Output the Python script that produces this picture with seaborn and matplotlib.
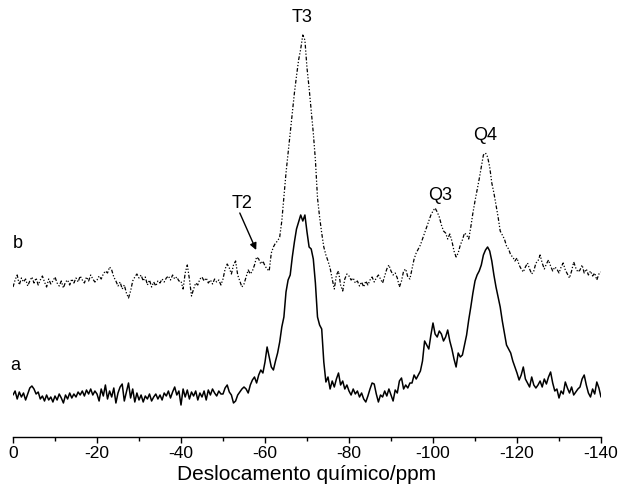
import numpy as np
import pandas as pd
import matplotlib
matplotlib.use("Agg")
import matplotlib.pyplot as plt
import seaborn as sns

# chemical shift grid (ppm), 0 to -140 in 0.5 ppm steps
ppm = np.linspace(0, -140, 281)

# spectrum a (solid), intensity relative to its baseline
spec_a = [
    2, 6, -2, 5, 0, 4, -3, 3, 9, 11,
    8, 3, 5, -2, 1, -4, 2, -3, 0, -5,
    1, -3, 3, -1, -6, 2, -2, 4, -1, 3,
    0, 5, 2, 6, 1, 7, 3, 8, 2, 6,
    3, -4, 8, 1, 12, -2, 6, 0, 9, -6,
    4, 10, 13, -4, 5, 14, -1, 8, -5, 4,
    -3, 2, -5, 1, -2, 3, -4, 0, 3, -2,
    2, -3, 4, 1, 6, -1, 5, 10, 2, 6,
    -8, 8, 0, 7, -2, 5, 1, 6, -3, 4,
    0, 6, -3, 7, 2, 8, 4, 1, 6, 3,
    3, 9, 12, 5, 2, -6, -4, 2, 5, 8,
    10, 8, 4, 12, 17, 20, 14, 22, 27, 24,
    35, 50, 40, 30, 27, 36, 44, 55, 70, 80,
    105, 117, 122, 140, 155, 168, 175, 182, 176, 182,
    165, 150, 148, 138, 114, 80, 72, 68, 35, 15,
    20, 8, 16, 10, 18, 24, 12, 16, 8, 12,
    6, 2, 8, 3, 6, 0, 4, -2, -5, 1,
    8, 14, 13, 3, -5, 2, 0, 6, 1, 8,
    2, -4, 7, 4, 16, 19, 8, 12, 9, 14,
    14, 22, 18, 22, 26, 36, 56, 52, 48, 62,
    74, 63, 60, 66, 63, 56, 60, 67, 56, 48,
    38, 30, 44, 40, 42, 52, 62, 77, 90, 104,
    116, 122, 126, 132, 142, 147, 150, 146, 136, 122,
    110, 100, 90, 76, 64, 52, 48, 44, 36, 30,
    24, 17, 22, 30, 18, 14, 10, 20, 12, 9,
    12, 16, 10, 18, 13, 20, 25, 14, 6, 8,
    -1, 6, 3, 15, 9, 4, 10, 2, 5, 8,
    10, 18, 22, 12, 4, 0, 8, 3, 15, 9,
    0,
]

# spectrum b (dash-dot), intensity relative to its baseline
spec_b = [
    -4, 3, 8, -2, 5, 1, 4, -3, 2, 6,
    0, 5, -2, 3, 7, 1, -4, 4, -1, 2,
    6, 0, -3, 2, -5, 1, 3, -2, 4, 0,
    5, 1, 7, 3, 0, 6, 2, 8, 4, 1,
    3, 7, 4, 9, 12, 10, 16, 13, 6, 2,
    -3, 1, -6, -2, -10, -15, -8, 2, 6, 9,
    5, 8, 2, 6, -2, 3, -4, 1, -3, 2,
    0, 4, 1, 5, 7, 3, 8, 4, 6, 2,
    2, -6, 10, 18, 4, -13, -6, 0, -2, 4,
    6, 2, 5, 0, 3, -1, 4, 1, 3, -2,
    4, 14, 19, 15, 9, 18, 22, 8, 2, -4,
    -1, 6, 13, 9, 12, 18, 26, 24, 19, 22,
    17, 14, 12, 30, 36, 40, 42, 46, 62, 86,
    110, 130, 150, 170, 190, 207, 223, 234, 248, 243,
    215, 195, 172, 150, 123, 85, 66, 50, 36, 28,
    22, 15, 4, -6, 8, 12, -2, -8, 4, 9,
    7, 3, 5, 0, 2, -3, 1, -4, 2, -2,
    3, 6, 1, 5, 8, 4, 0, 7, 14, 18,
    12, 8, 10, 5, -4, 2, 12, 14, 6, 4,
    14, 24, 30, 34, 38, 44, 50, 56, 62, 68,
    72, 75, 71, 66, 58, 52, 50, 44, 49, 42,
    32, 26, 30, 38, 43, 50, 48, 44, 56, 70,
    82, 93, 104, 116, 128, 130, 126, 116, 100, 90,
    78, 66, 52, 48, 44, 37, 34, 28, 26, 22,
    25, 18, 14, 11, 16, 20, 14, 9, 12, 20,
    22, 28, 20, 14, 19, 23, 17, 12, 16, 14,
    10, 16, 20, 13, 9, 5, 12, 21, 15, 11,
    13, 18, 10, 14, 8, 12, 7, 10, 3, 9,
    11,
]

trace_labels = ["a", "b"]
peak_labels = ["T3", "T2", "Q3", "Q4"]
x_ticks = [0, -20, -40, -60, -80, -100, -120, -140]
x_label = "Deslocamento químico/ppm"

assert len(spec_a) == len(ppm) and len(spec_b) == len(ppm)

# vertical offsets of the stacked spectra (display)
offset_a = 40
offset_b = 154

sns.set_style("ticks", {"axes.edgecolor": "black", "text.color": "black",
                        "xtick.color": "black", "axes.labelcolor": "black"})
plt.rcParams["font.family"] = ["Liberation Sans", "DejaVu Sans"]

df = pd.DataFrame({
    "ppm": np.concatenate([ppm, ppm]),
    "y": np.concatenate([np.array(spec_a) + offset_a, np.array(spec_b) + offset_b]),
    "trace": ["a"] * len(ppm) + ["b"] * len(ppm),
})

W, H = 618, 499
fig = plt.figure(figsize=(W / 100, H / 100), dpi=100)
ax = fig.add_axes([13 / W, 62 / H, 588 / W, 437 / H])

sns.lineplot(data=df[df.trace == "a"], x="ppm", y="y", ax=ax, color="black",
             linewidth=1.1, sort=False, estimator=None)
sns.lineplot(data=df[df.trace == "b"], x="ppm", y="y", ax=ax, color="black",
             linewidth=0.9, sort=False, estimator=None,
             linestyle=(0, (3, 1.5, 1, 1.5, 1, 1.5)))

ax.set_xlim(0, -140)
ax.set_ylim(0, 437)
ax.set_xticks(x_ticks)
ax.set_xticklabels([str(t) for t in x_ticks], fontsize=12.5, color="black")
ax.set_xticks(np.arange(-10, -140, -20), minor=True)
ax.tick_params(axis="x", which="major", length=4.5, width=1, direction="out",
               pad=2, color="black")
ax.tick_params(axis="x", which="minor", length=3, width=1, direction="out",
               color="black")
ax.set_yticks([])
ax.set_xlabel(x_label, fontsize=15, labelpad=3, color="black")
ax.set_ylabel("")
for s in ["left", "right", "top"]:
    ax.spines[s].set_visible(False)
ax.spines["bottom"].set_linewidth(1)
ax.spines["bottom"].set_color("black")
ax.set_facecolor("white")

fs = 13
ax.text(-0.6, 72, trace_labels[0], fontsize=fs, ha="center", va="center", color="black")
ax.text(-1.2, 193, trace_labels[1], fontsize=fs, ha="center", va="center", color="black")
ax.text(-68.8, 420, peak_labels[0], fontsize=fs, ha="center", va="center", color="black")
ax.text(-54.5, 234, peak_labels[1], fontsize=fs, ha="center", va="center", color="black")
ax.annotate("", xy=(-57.9, 187), xytext=(-54.0, 224),
            arrowprops=dict(arrowstyle="-|>", color="black", lw=1,
                            mutation_scale=10, shrinkA=0, shrinkB=0))
ax.text(-101.7, 242, peak_labels[2], fontsize=fs, ha="center", va="center", color="black")
ax.text(-112.4, 301, peak_labels[3], fontsize=fs, ha="center", va="center", color="black")

fig.savefig("out.png", dpi=100, facecolor="white")
